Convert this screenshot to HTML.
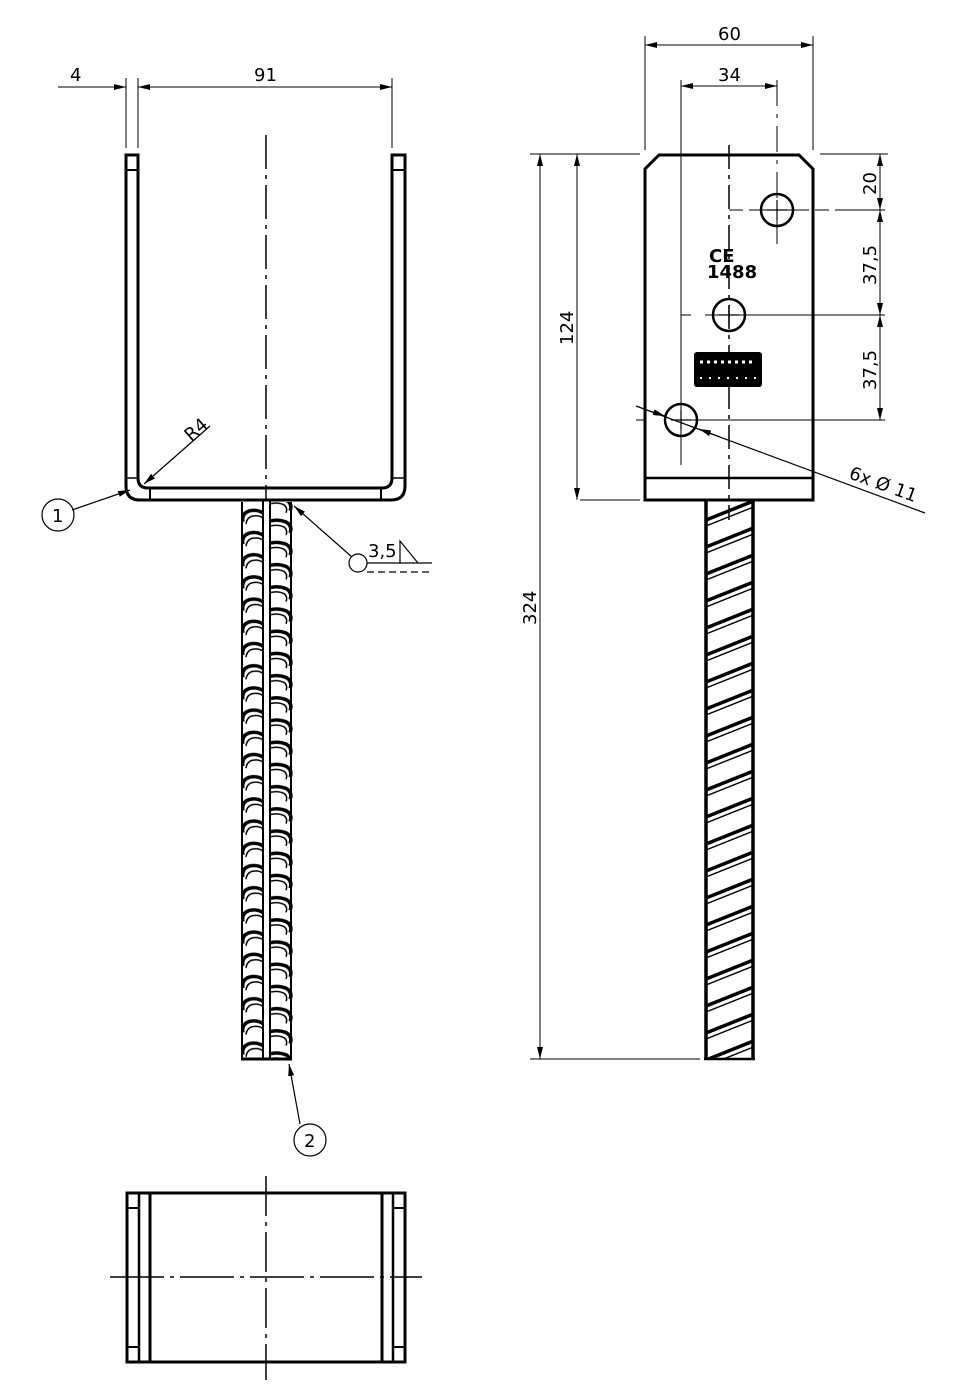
<!DOCTYPE html>
<html><head><meta charset="utf-8"><style>
html,body{margin:0;padding:0;background:#fff}
svg{display:block}
text{font-family:"DejaVu Sans","Liberation Sans",sans-serif;font-size:18px;fill:#000}
</style></head><body>
<svg width="966" height="1400" viewBox="0 0 966 1400" xmlns="http://www.w3.org/2000/svg">
<defs>
<marker id="a" viewBox="0 0 12 6" refX="12" refY="3" markerWidth="12" markerHeight="6" orient="auto-start-reverse" markerUnits="userSpaceOnUse"><path d="M0,0L12,3L0,6z" fill="#000"/></marker>
<pattern id="rl" patternUnits="userSpaceOnUse" x="241" y="505" width="60" height="22.2">
<path d="M2,17 Q0,9 8,6 Q16,4 22,8" fill="none" stroke="#000" stroke-width="3.5"/>
<path d="M5,19 Q6,12 12,11 Q18,10 22,13" fill="none" stroke="#000" stroke-width="1.5"/>
</pattern>
<pattern id="rr" patternUnits="userSpaceOnUse" x="270" y="516" width="60" height="22.2">
<path d="M0,5 Q8,3 16,6 Q23,10 20,17" fill="none" stroke="#000" stroke-width="3.5"/>
<path d="M0,10 Q8,8 14,11 Q18,14 16,19" fill="none" stroke="#000" stroke-width="1.5"/>
</pattern>
<pattern id="rh" patternUnits="userSpaceOnUse" x="706" y="500" width="60" height="27">
<path d="M-5,22 L65,-6" stroke="#000" stroke-width="3.5"/>
<path d="M-5,28 L65,0" stroke="#000" stroke-width="1.5"/>
<path d="M-5,49 L65,21" stroke="#000" stroke-width="3.5"/>
<path d="M-5,55 L65,27" stroke="#000" stroke-width="1.5"/>
<path d="M-5,-5 L65,-33" stroke="#000" stroke-width="3.5"/>
<path d="M-5,1 L65,-27" stroke="#000" stroke-width="1.5"/>
</pattern>
</defs>
<g stroke="#000" fill="none">
<path d="M126,155 H138 V478 Q138,488 148,488 H382 Q392,488 392,478 V155 H405 V486 Q405,500 391,500 H140 Q126,500 126,486 Z" stroke-width="3"/>
<line x1="126" y1="170" x2="138" y2="170" stroke-width="2"/>
<line x1="392" y1="170" x2="405" y2="170" stroke-width="2"/>
<line x1="150" y1="488" x2="150" y2="500" stroke-width="2"/>
<line x1="381" y1="488" x2="381" y2="500" stroke-width="2"/>
<line x1="126" y1="478" x2="138" y2="478" stroke-width="1.5"/>
<line x1="392" y1="478" x2="405" y2="478" stroke-width="1.5"/>
<line x1="266" y1="135" x2="266" y2="500" stroke-width="1.5" stroke-dasharray="34,6,4,6"/>
<rect x="239" y="502" width="24" height="557" fill="url(#rl)" stroke="none"/>
<rect x="270" y="502" width="24" height="557" fill="url(#rr)" stroke="none"/>
<line x1="242" y1="502" x2="242" y2="1058" stroke-width="2"/>
<line x1="291" y1="502" x2="291" y2="1058" stroke-width="2"/>
<line x1="263" y1="500" x2="263" y2="1060" stroke-width="2"/>
<line x1="270" y1="500" x2="270" y2="1060" stroke-width="2"/>
<line x1="241" y1="1059" x2="292" y2="1059" stroke-width="3"/>
<line x1="126" y1="78" x2="126" y2="148" stroke-width="1"/>
<line x1="138" y1="78" x2="138" y2="148" stroke-width="1"/>
<line x1="392" y1="78" x2="392" y2="148" stroke-width="1"/>
<line x1="58" y1="87" x2="126" y2="87" stroke-width="1" marker-end="url(#a)"/>
<line x1="138" y1="87" x2="392" y2="87" stroke-width="1" marker-start="url(#a)" marker-end="url(#a)"/>
<line x1="210" y1="426" x2="144" y2="484" stroke-width="1.2" marker-end="url(#a)"/>
<line x1="72" y1="510" x2="130" y2="490" stroke-width="1.2" marker-end="url(#a)"/>
<circle cx="58" cy="515" r="16" stroke-width="1.2"/>
<line x1="352" y1="557" x2="294" y2="506" stroke-width="1.2" marker-end="url(#a)"/>
<circle cx="358" cy="563" r="9" stroke-width="1.2"/>
<line x1="367" y1="563" x2="432" y2="563" stroke-width="1.2"/>
<line x1="367" y1="572" x2="432" y2="572" stroke-width="1.2" stroke-dasharray="7,4"/>
<path d="M400,563 V541 L418,563" stroke-width="1.2"/>
<line x1="300" y1="1124" x2="289" y2="1064" stroke-width="1.2" marker-end="url(#a)"/>
<circle cx="310" cy="1140" r="16" stroke-width="1.2"/>
<rect x="127" y="1193" width="278" height="169" stroke-width="3"/>
<line x1="139" y1="1193" x2="139" y2="1362" stroke-width="2.5"/>
<line x1="150" y1="1193" x2="150" y2="1362" stroke-width="3"/>
<line x1="382" y1="1193" x2="382" y2="1362" stroke-width="3"/>
<line x1="393" y1="1193" x2="393" y2="1362" stroke-width="2.5"/>
<line x1="127" y1="1208" x2="139" y2="1208" stroke-width="2"/>
<line x1="127" y1="1347" x2="139" y2="1347" stroke-width="2"/>
<line x1="393" y1="1208" x2="405" y2="1208" stroke-width="2"/>
<line x1="393" y1="1347" x2="405" y2="1347" stroke-width="2"/>
<line x1="266" y1="1176" x2="266" y2="1380" stroke-width="1.5" stroke-dasharray="40,6,4,6"/>
<line x1="110" y1="1277" x2="422" y2="1277" stroke-width="1.5" stroke-dasharray="54,6,4,6"/>
<path d="M645,500 V169 L659,155 H799 L813,169 V500 Z" stroke-width="3"/>
<line x1="645" y1="478" x2="813" y2="478" stroke-width="2.5"/>
<line x1="729" y1="145" x2="729" y2="520" stroke-width="1.5" stroke-dasharray="24,6,4,6"/>
<line x1="681" y1="80" x2="681" y2="465" stroke-width="1"/>
<line x1="777" y1="80" x2="777" y2="250" stroke-width="1" stroke-dasharray="26,8,4,8"/>
<circle cx="777" cy="210" r="16" stroke-width="2.5"/>
<line x1="767" y1="210" x2="787" y2="210" stroke-width="1.2"/><line x1="777" y1="200" x2="777" y2="220" stroke-width="1.2"/>
<circle cx="729" cy="315" r="16" stroke-width="2.5"/>
<line x1="719" y1="315" x2="739" y2="315" stroke-width="1.2"/><line x1="729" y1="305" x2="729" y2="325" stroke-width="1.2"/>
<circle cx="681" cy="420" r="16" stroke-width="2.5"/>
<line x1="671" y1="420" x2="691" y2="420" stroke-width="1.2"/><line x1="681" y1="410" x2="681" y2="430" stroke-width="1.2"/>
<line x1="729" y1="210" x2="885" y2="210" stroke-width="1" stroke-dasharray="14,6,60,6"/>
<line x1="681" y1="315" x2="885" y2="315" stroke-width="1" stroke-dasharray="10,14,200"/>
<line x1="636" y1="420" x2="885" y2="420" stroke-width="1" stroke-dasharray="10,8,0,32,200"/>
<line x1="636" y1="406" x2="925" y2="513" stroke-width="1.2"/>
<line x1="650" y1="411" x2="665" y2="416" stroke-width="1" marker-end="url(#a)"/>
<line x1="720" y1="437" x2="699" y2="429" stroke-width="1" marker-end="url(#a)"/>
<rect x="694" y="352" width="68" height="35" rx="3" fill="#000" stroke="none"/>
<line x1="700" y1="362" x2="756" y2="362" stroke="#fff" stroke-width="3" stroke-dasharray="3,4"/>
<line x1="700" y1="378" x2="756" y2="378" stroke="#fff" stroke-width="2" stroke-dasharray="2,7"/>
<rect x="706" y="501" width="46" height="558" fill="url(#rh)" stroke="none"/>
<line x1="706" y1="500" x2="706" y2="1060" stroke-width="3.5"/>
<line x1="753" y1="500" x2="753" y2="1060" stroke-width="3.5"/>
<line x1="704" y1="1059" x2="755" y2="1059" stroke-width="2.5"/>
<line x1="645" y1="36" x2="645" y2="150" stroke-width="1"/>
<line x1="813" y1="36" x2="813" y2="150" stroke-width="1"/>
<line x1="645" y1="45" x2="813" y2="45" stroke-width="1" marker-start="url(#a)" marker-end="url(#a)"/>
<line x1="681" y1="86" x2="777" y2="86" stroke-width="1" marker-start="url(#a)" marker-end="url(#a)"/>
<line x1="530" y1="154" x2="640" y2="154" stroke-width="1"/>
<line x1="820" y1="154" x2="888" y2="154" stroke-width="1"/>
<line x1="580" y1="500" x2="640" y2="500" stroke-width="1"/>
<line x1="530" y1="1059" x2="700" y2="1059" stroke-width="1"/>
<line x1="880" y1="154" x2="880" y2="210" stroke-width="1" marker-start="url(#a)" marker-end="url(#a)"/>
<line x1="880" y1="210" x2="880" y2="315" stroke-width="1" marker-start="url(#a)" marker-end="url(#a)"/>
<line x1="880" y1="315" x2="880" y2="420" stroke-width="1" marker-start="url(#a)" marker-end="url(#a)"/>
<line x1="577" y1="154" x2="577" y2="500" stroke-width="1" marker-start="url(#a)" marker-end="url(#a)"/>
<line x1="540" y1="154" x2="540" y2="1059" stroke-width="1" marker-start="url(#a)" marker-end="url(#a)"/>
</g>
<text x="70" y="81">4</text>
<text x="254" y="81">91</text>
<text x="718" y="40">60</text>
<text x="718" y="81">34</text>
<text transform="translate(191,442) rotate(-41)">R4</text>
<text x="52" y="522" font-size="17">1</text>
<text x="304" y="1147" font-size="17">2</text>
<text x="368" y="557">3,5</text>
<text transform="translate(876,195) rotate(-90)">20</text>
<text transform="translate(876,285) rotate(-90)">37,5</text>
<text transform="translate(876,390) rotate(-90)">37,5</text>
<text transform="translate(573,345) rotate(-90)">124</text>
<text transform="translate(536,625) rotate(-90)">324</text>
<text transform="translate(848,478) rotate(20)">6x Ø 11</text>
<text x="709" y="262" font-size="26" font-weight="bold" font-family="Liberation Sans">CE</text>
<text x="707" y="278" font-size="16" font-weight="bold" font-family="Liberation Sans">1488</text>
</svg>
</body></html>
